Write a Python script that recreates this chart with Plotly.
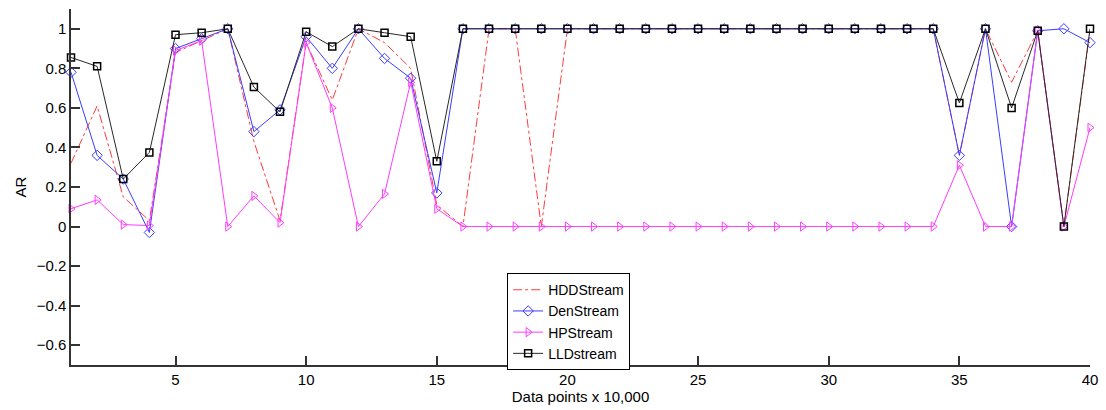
import plotly.graph_objects as go

x_vals = list(range(1, 41))

hdd = [0.32, 0.61, 0.15, 0.03, 0.88, 0.94, 1.0, 0.43, 0.03, 0.93,
       0.64, 1.0, 0.93, 0.80, 0.11, 0.0, 1.0, 1.0, 0.0, 1.0,
       1.0, 1.0, 1.0, 1.0, 1.0, 1.0, 1.0, 1.0, 1.0, 1.0,
       1.0, 1.0, 1.0, 1.0, 0.36, 1.0, 0.73, 0.99, 0.0, 0.99]

den = [0.78, 0.36, 0.24, -0.03, 0.90, 0.95, 1.0, 0.48, 0.59, 0.96,
       0.80, 1.0, 0.85, 0.75, 0.17, 1.0, 1.0, 1.0, 1.0, 1.0,
       1.0, 1.0, 1.0, 1.0, 1.0, 1.0, 1.0, 1.0, 1.0, 1.0,
       1.0, 1.0, 1.0, 1.0, 0.36, 1.0, 0.0, 0.99, 1.0, 0.93]

hp = [0.09, 0.135, 0.01, 0.005, 0.89, 0.94, 0.0, 0.155, 0.02, 0.93,
      0.60, 0.0, 0.165, 0.73, 0.09, 0.0, 0.0, 0.0, 0.0, 0.0,
      0.0, 0.0, 0.0, 0.0, 0.0, 0.0, 0.0, 0.0, 0.0, 0.0,
      0.0, 0.0, 0.0, 0.0, 0.31, 0.0, 0.0, 0.99, 0.0, 0.50]

lld = [0.855, 0.81, 0.24, 0.375, 0.97, 0.98, 1.0, 0.705, 0.58, 0.985,
       0.91, 1.0, 0.98, 0.96, 0.33, 1.0, 1.0, 1.0, 1.0, 1.0,
       1.0, 1.0, 1.0, 1.0, 1.0, 1.0, 1.0, 1.0, 1.0, 1.0,
       1.0, 1.0, 1.0, 1.0, 0.625, 1.0, 0.60, 0.99, 0.0, 1.0]

y_tickvals = [-0.6, -0.4, -0.2, 0, 0.2, 0.4, 0.6, 0.8, 1]
y_ticktext = ["\u22120.6", "\u22120.4", "\u22120.2", "0", "0.2", "0.4", "0.6", "0.8", "1"]
x_tickvals = [5, 10, 15, 20, 25, 30, 35, 40]

font_family = "Liberation Sans, Arial, sans-serif"

fig = go.Figure()
fig.add_trace(go.Scatter(x=x_vals, y=hdd, name="HDDStream", mode="lines", cliponaxis=False,
                         line=dict(color="rgb(255,60,60)", width=1, dash="dashdot")))
fig.add_trace(go.Scatter(x=x_vals, y=den, name="DenStream", mode="lines+markers", cliponaxis=False,
                         line=dict(color="rgb(60,60,255)", width=1),
                         marker=dict(symbol="diamond-open", size=8, color="rgb(60,60,255)",
                                     line=dict(width=1))))
fig.add_trace(go.Scatter(x=x_vals, y=hp, name="HPStream", mode="lines+markers", cliponaxis=False,
                         line=dict(color="rgb(255,60,255)", width=1),
                         marker=dict(symbol="triangle-right-open", size=8, color="rgb(255,60,255)",
                                     line=dict(width=1))))
fig.add_trace(go.Scatter(x=x_vals, y=lld, name="LLDstream", mode="lines+markers", cliponaxis=False,
                         line=dict(color="rgb(40,40,40)", width=1),
                         marker=dict(symbol="square-open", size=7, color="black",
                                     line=dict(width=1.5))))

fig.update_layout(
    width=1106, height=410,
    margin=dict(l=71, r=16, t=9, b=45),
    paper_bgcolor="white", plot_bgcolor="white",
    font=dict(family=font_family, size=14, color="black"),
    showlegend=True,
    legend=dict(x=0.428, y=0.258, xanchor="left", yanchor="top",
                bordercolor="black", borderwidth=1, bgcolor="white",
                font=dict(family=font_family, size=14, color="black"),
                tracegroupgap=0, itemwidth=30),
)
fig.update_xaxes(range=[1, 40], tickvals=x_tickvals, showgrid=False, zeroline=False,
                 showline=True, linecolor="#333", linewidth=1.5,
                 ticks="inside", ticklen=9, tickcolor="#333", tickwidth=1.5,
                 tickfont=dict(size=15),
                 title=dict(text="Data points x 10,000", font=dict(size=15), standoff=2))
fig.update_yaxes(range=[-0.7, 1.1], tickvals=y_tickvals, ticktext=y_ticktext,
                 showgrid=False, zeroline=False,
                 showline=True, linecolor="#333", linewidth=1.5,
                 ticks="inside", ticklen=9, tickcolor="#333", tickwidth=1.5,
                 tickfont=dict(size=15),
                 title=dict(text="AR", font=dict(size=15), standoff=6))

fig.write_html("out.html")
